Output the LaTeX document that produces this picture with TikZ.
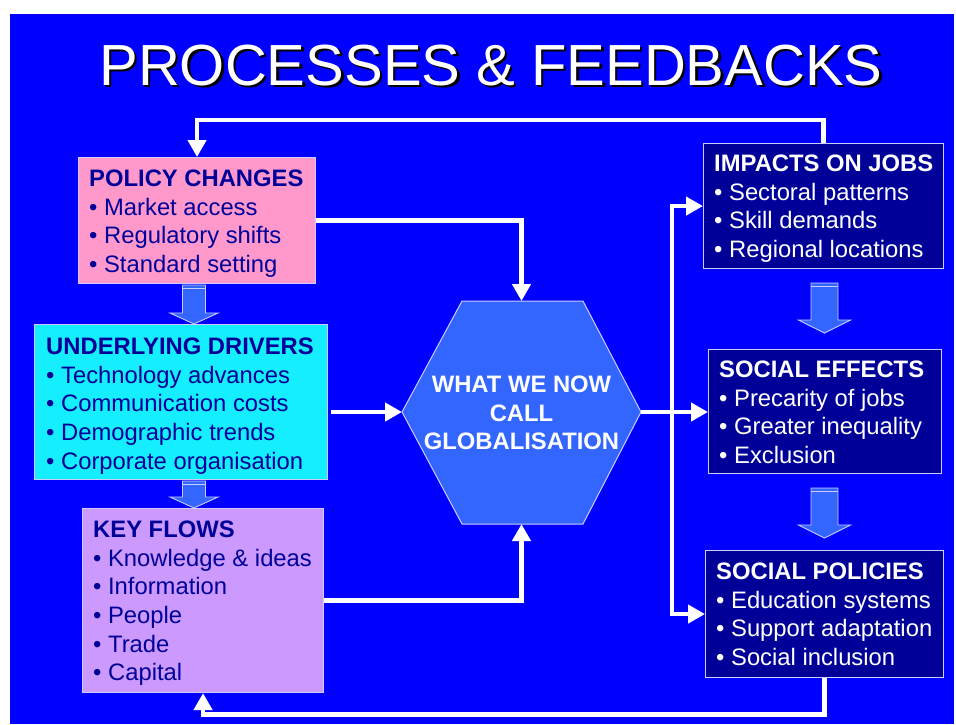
\documentclass[tikz,border=0pt]{standalone}
\usepackage{fontspec}
\setmainfont{Liberation Sans}
\usetikzlibrary{arrows.meta,calc}
\definecolor{bgblue}{HTML}{0000FF}
\definecolor{pinkbox}{HTML}{FF99CC}
\definecolor{cyanbox}{HTML}{14EEFF}
\definecolor{lilacbox}{HTML}{CC99FF}
\definecolor{hexblue}{HTML}{3366FF}
\definecolor{navybox}{HTML}{000099}
\definecolor{navytext}{HTML}{000099}
\definecolor{edgelight}{HTML}{CCCCFF}
\newcommand\boxfont{\fontsize{23.8}{28.6}\selectfont}
\newcommand\firststrut{\rule{0pt}{20pt}}
\newcommand\shadowtext[1]{\rlap{\kern2.5pt\raisebox{-2.5pt}{\color{black}#1}}\textcolor{white}{#1}}
\newcommand\downblock[5]{%
  \draw[blockarrow] ($(#1)+(-#3,0)$) -- ($(#1)+(#3,0)$) -- ($(#2)+(#3,-#5)$) -- ($(#2)+(#4,-#5)$) -- (#2) -- ($(#2)+(-#4,-#5)$) -- ($(#2)+(-#3,-#5)$) -- cycle;
  \draw[stripe] ($(#1)+(-#3,3.2)$) -- ($(#1)+(#3,3.2)$);
}
\begin{document}
\begin{tikzpicture}[x=1pt,y=-1pt,
  panel/.style={draw=edgelight, line width=1.1pt, anchor=north west, inner sep=0pt, rectangle},
  paneltext/.style={anchor=north west, inner sep=0pt, align=left, font=\boxfont},
  conn/.style={draw=white, line width=4.8pt, line join=miter, -{Triangle[length=17pt,width=18pt]}},
  blockarrow/.style={fill=hexblue, draw=edgelight, line width=0.9pt, line join=miter},
  stripe/.style={draw=edgelight, line width=1.2pt},
  titlefont/.style={font=\fontsize{58}{60}\selectfont, inner sep=0pt, anchor=base}
]
\useasboundingbox (0,0) rectangle (956,724);
\fill[white] (0,0) rectangle (956,724);
\fill[bgblue] (10,14) rectangle (954,724);

% title with shadow
\node[titlefont] (title) at (491,85) {\shadowtext{PROCESSES \& FEEDBACKS}};

% boxes
\node[panel, fill=pinkbox, minimum width=237pt, minimum height=126pt] (policy) at (78,157) {};
\node[paneltext, text=navytext] (policytxt) at (89,166.5)
  {\textbf{POLICY CHANGES}\firststrut\\• Market access\\• Regulatory shifts\\• Standard setting};

\node[panel, fill=cyanbox, minimum width=293pt, minimum height=155pt] (drivers) at (34,324) {};
\node[paneltext, text=navytext] (driverstxt) at (46,334.5)
  {\textbf{UNDERLYING DRIVERS}\firststrut\\• Technology advances\\• Communication costs\\• Demographic trends\\• Corporate organisation};

\node[panel, fill=lilacbox, minimum width=241pt, minimum height=184pt] (flows) at (82,508) {};
\node[paneltext, text=navytext] (flowstxt) at (93,517.5)
  {\textbf{KEY FLOWS}\firststrut\\• Knowledge \& ideas\\• Information\\• People\\• Trade\\• Capital};

\node[panel, fill=navybox, minimum width=240pt, minimum height=125pt] (jobs) at (703,143) {};
\node[paneltext, text=white] (jobstxt) at (714,151.5)
  {\textbf{IMPACTS ON JOBS}\firststrut\\• Sectoral patterns\\• Skill demands\\• Regional locations};

\node[panel, fill=navybox, minimum width=233pt, minimum height=124pt] (effects) at (708,349) {};
\node[paneltext, text=white] (effectstxt) at (719,357.5)
  {\textbf{SOCIAL EFFECTS}\firststrut\\• Precarity of jobs\\• Greater inequality\\• Exclusion};

\node[panel, fill=navybox, minimum width=238pt, minimum height=127pt] (policies) at (705,550) {};
\node[paneltext, text=white] (policiestxt) at (716,559.5)
  {\textbf{SOCIAL POLICIES}\firststrut\\• Education systems\\• Support adaptation\\• Social inclusion};

% hexagon
\coordinate (hexT) at (521.5,301);
\coordinate (hexB) at (521.5,524);
\coordinate (hexL) at (402,412);
\coordinate (hexR) at (641,412);
\draw[fill=hexblue, draw=edgelight, line width=1pt] (462,301) -- (583,301) -- (hexR) -- (583,524) -- (462,524) -- (hexL) -- cycle;
\node[font=\boxfont\bfseries, text=white, align=center, inner sep=0pt] (glob) at (521.5,413) {WHAT WE NOW\\CALL\\GLOBALISATION};

% connectors
\draw[conn] (jobs.north) -- ++(0,-23) -| (policy.north);
\draw[conn] (policy.east) -| (hexT);
\coordinate (drvout) at ($(drivers.east |- hexL)+(3,0)$);
\draw[conn] (drvout) -- (hexL);
\draw[conn] (flows.east) -| (hexB);
\coordinate (bus) at (672,412);
\draw[conn] (hexR) -- (hexR -| effects.west);
\draw[conn] (bus) |- (jobs.west);
\draw[conn] (bus) |- (policies.west);
\draw[conn] (policies.south) -- ++(0,36) -| (flows.south);

% block arrows
\coordinate (ba1top) at (194,285);
\coordinate (ba1tip) at (194,324);
\downblock{ba1top}{ba1tip}{11.5}{24}{11}
\coordinate (ba2top) at (194,481);
\coordinate (ba2tip) at (194,508);
\downblock{ba2top}{ba2tip}{11.5}{24}{11}
\coordinate (ba3top) at (824.5,283);
\coordinate (ba3tip) at (824.5,333);
\downblock{ba3top}{ba3tip}{13.5}{26}{13}
\coordinate (ba4top) at (824.5,488);
\coordinate (ba4tip) at (824.5,538);
\downblock{ba4top}{ba4tip}{13.5}{26}{13}
\end{tikzpicture}
\end{document}
